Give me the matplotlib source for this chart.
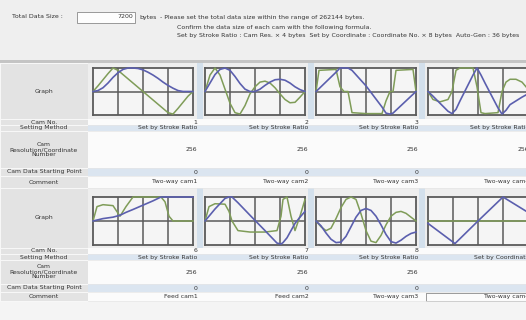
import matplotlib
matplotlib.use("Agg")
import matplotlib.pyplot as plt
from matplotlib.patches import Rectangle

# ---------------- data ----------------
header_label = "Total Data Size :"
header_value = "7200"
header_unit = "bytes"
header_lines = [
    "- Please set the total data size within the range of 262144 bytes.",
    "Confirm the data size of each cam with the following formula.",
    "Set by Stroke Ratio : Cam Res. \u00d7 4 bytes  Set by Coordinate : Coordinate No. \u00d7 8 bytes  Auto-Gen : 36 bytes",
]
row_labels = ["Graph", "Cam No.", "Setting Method", "Cam\nResolution/Coordinate\nNumber",
              "Cam Data Starting Point", "Comment"]

top_cam_no = ["1", "2", "3", "4"]
top_method = ["Set by Stroke Ratio", "Set by Stroke Ratio", "Set by Stroke Ratio", "Set by Stroke Ratio"]
top_res = ["256", "256", "256", "256"]
top_start = ["0", "0", "0", "0"]
top_comment = ["Two-way cam1", "Two-way cam2", "Two-way cam3", "Two-way cam4"]

bot_cam_no = ["6", "7", "8", "9"]
bot_method = ["Set by Stroke Ratio", "Set by Stroke Ratio", "Set by Stroke Ratio", "Set by Coordinate"]
bot_res = ["256", "256", "256", ""]
bot_start = ["0", "0", "0", ""]
bot_comment = ["Feed cam1", "Feed cam2", "Two-way cam3", "Two-way cam4"]

# curves: (x, blue stroke, green)
g1_x = [0, 0.05, 0.1, 0.15, 0.2, 0.25, 0.3, 0.35, 0.4, 0.45, 0.5, 0.55, 0.6, 0.65, 0.7, 0.75, 0.8, 0.85, 0.9, 0.95, 1.0]
g1_blue = [0.5, 0.52, 0.58, 0.68, 0.8, 0.9, 0.97, 1.0, 1.0, 0.99, 0.96, 0.91, 0.85, 0.78, 0.7, 0.63, 0.57, 0.52, 0.5, 0.5, 0.5]
g1_green = [0.5, 0.62, 0.75, 0.88, 1.0, 0.95, 0.86, 0.77, 0.68, 0.59, 0.5, 0.41, 0.32, 0.23, 0.14, 0.05, 0.02, 0.14, 0.27, 0.4, 0.5]

g2_x = [0, 0.05, 0.1, 0.15, 0.2, 0.25, 0.3, 0.35, 0.4, 0.45, 0.5, 0.55, 0.6, 0.65, 0.7, 0.75, 0.8, 0.85, 0.9, 0.95, 1.0]
g2_blue = [0.5, 0.68, 0.86, 0.97, 1.0, 0.95, 0.82, 0.67, 0.55, 0.5, 0.5, 0.55, 0.63, 0.7, 0.75, 0.76, 0.74, 0.68, 0.6, 0.54, 0.5]
g2_green = [0.5, 0.85, 1.0, 0.85, 0.55, 0.25, 0.05, 0.02, 0.2, 0.45, 0.6, 0.7, 0.72, 0.68, 0.58, 0.45, 0.33, 0.26, 0.27, 0.38, 0.5]

g3_x = [0, 0.03, 0.2, 0.24, 0.28, 0.32, 0.36, 0.5, 0.66, 0.7, 0.74, 0.77, 0.8, 0.97, 1.0]
g3_blue = [0.5, 0.56, 0.91, 1.0, 1.0, 1.0, 0.95, 0.62, 0.17, 0.04, 0.02, 0.04, 0.1, 0.44, 0.5]
g3_green = [0.5, 0.95, 0.97, 0.6, 0.5, 0.5, 0.05, 0.03, 0.03, 0.3, 0.5, 0.5, 0.95, 0.97, 0.5]

g4_x = [0, 0.05, 0.12, 0.2, 0.24, 0.28, 0.32, 0.45, 0.49, 0.53, 0.57, 0.7, 0.74, 0.78, 0.82, 0.88, 0.94, 1.0]
g4_blue = [0.5, 0.4, 0.25, 0.08, 0.03, 0.12, 0.3, 0.85, 1.0, 0.85, 0.68, 0.15, 0.02, 0.1, 0.22, 0.3, 0.38, 0.45]
g4_green = [0.5, 0.33, 0.28, 0.33, 0.5, 0.95, 1.0, 1.0, 0.6, 0.05, 0.03, 0.05, 0.5, 0.7, 0.76, 0.76, 0.7, 0.55]

g5_x = [0, 0.04, 0.1, 0.2, 0.27, 0.33, 0.4, 0.5, 0.6, 0.68, 0.72, 0.76, 0.8, 0.9, 1.0]
g5_blue = [0.5, 0.52, 0.55, 0.58, 0.62, 0.68, 0.74, 0.83, 0.92, 1.0, 1.0, 1.0, 1.0, 1.0, 1.0]
g5_green = [0.5, 0.8, 0.84, 0.82, 0.6, 0.8, 1.0, 1.0, 1.0, 1.0, 0.9, 0.6, 0.5, 0.5, 0.5]

g6_x = [0, 0.04, 0.1, 0.2, 0.24, 0.27, 0.33, 0.45, 0.6, 0.72, 0.76, 0.78, 0.82, 0.86, 0.9, 0.95, 1.0]
g6_blue = [0.5, 0.6, 0.75, 0.97, 1.0, 1.0, 0.88, 0.62, 0.3, 0.04, 0.02, 0.05, 0.15, 0.3, 0.45, 0.58, 0.7]
g6_green = [0.5, 0.8, 0.86, 0.85, 0.7, 0.5, 0.3, 0.27, 0.27, 0.3, 0.6, 0.95, 1.0, 0.6, 0.3, 0.6, 0.95]

g7_x = [0, 0.05, 0.1, 0.15, 0.2, 0.25, 0.3, 0.35, 0.4, 0.45, 0.5, 0.55, 0.6, 0.65, 0.7, 0.75, 0.8, 0.85, 0.9, 0.95, 1.0]
g7_blue = [0.5, 0.4, 0.25, 0.12, 0.05, 0.06, 0.18, 0.38, 0.58, 0.72, 0.76, 0.72, 0.6, 0.42, 0.22, 0.07, 0.04, 0.1, 0.18, 0.24, 0.27]
g7_green = [0.5, 0.38, 0.3, 0.35, 0.55, 0.78, 0.95, 1.0, 0.95, 0.65, 0.3, 0.08, 0.05, 0.2, 0.42, 0.6, 0.68, 0.7, 0.66, 0.58, 0.5]

g8_x = [0, 0.27, 0.5, 0.75, 1.0]
g8_blue = [0.45, 0.03, 0.5, 1.0, 0.68]
g8_green = [0.5, 0.5, 0.5, 0.5, 0.5]

top_graphs = [(g1_x, g1_blue, g1_green), (g2_x, g2_blue, g2_green),
              (g3_x, g3_blue, g3_green), (g4_x, g4_blue, g4_green)]
bot_graphs = [(g5_x, g5_blue, g5_green), (g6_x, g6_blue, g6_green),
              (g7_x, g7_blue, g7_green), (g8_x, g8_blue, g8_green)]

# ---------------- layout ----------------
W, H = 526, 320
fig = plt.figure(figsize=(W / 100, H / 100), dpi=100)
fig.patch.set_facecolor("#f4f4f4")
ax = fig.add_axes([0, 0, 1, 1])
ax.set_xlim(0, W)
ax.set_ylim(H, 0)
ax.axis("off")

TXT = "#333333"
FS = 4.4
FSH = 4.5
BLUE_ROW = "#dbe5f0"
WHITE_ROW = "#fbfbfb"
LABEL_BG = "#e3e3e3"
GRAPH_BG = "#eeeeee"
STRIP = "#d3e0ec"
BLUE_LINE = "#5b5fae"
GREEN_LINE = "#7f9c58"
GRID = "#5a5a5a"

# header
ax.add_patch(Rectangle((0, 0), W, 62, facecolor="#efefef", edgecolor="none"))
ax.add_patch(Rectangle((0, 60), W, 3, facecolor="#c4c4c4", edgecolor="none"))
ax.text(12, 17, header_label, fontsize=FSH, color=TXT, va="center", ha="left")
ax.add_patch(Rectangle((77, 11.5), 58, 11, facecolor="#fdfdfd", edgecolor="#8a8a8a", lw=0.6))
ax.text(133, 17, header_value, fontsize=FSH, color=TXT, va="center", ha="right")
ax.text(139, 17, header_unit, fontsize=FSH, color=TXT, va="center", ha="left")
ax.text(160, 17, header_lines[0], fontsize=FSH, color=TXT, va="center", ha="left")
ax.text(177, 28, header_lines[1], fontsize=FSH, color=TXT, va="center", ha="left")
ax.text(177, 36, header_lines[2], fontsize=FSH, color=TXT, va="center", ha="left")

LABEL_W = 88
col_left = [88, 200, 311, 422]
col_right = [199, 310, 420, 531]
box_left = [93, 205, 316, 428]
BOX_W = 100

blocks = [
    dict(rows=[(63, 119), (119, 125), (125, 131), (131, 168), (168, 176), (176, 188)], box=(68, 115),
         vals=[top_cam_no, top_method, top_res, top_start, top_comment], graphs=top_graphs),
    dict(rows=[(188, 248), (248, 254), (254, 260), (260, 284), (284, 292), (292, 301)], box=(197, 245),
         vals=[bot_cam_no, bot_method, bot_res, bot_start, bot_comment], graphs=bot_graphs),
]

for bi, blk in enumerate(blocks):
    rows = blk["rows"]
    # label column
    for ri, (y0, y1) in enumerate(rows):
        ax.add_patch(Rectangle((0, y0), LABEL_W, y1 - y0, facecolor=LABEL_BG, edgecolor="#fafafa", lw=0.6))
        ax.text(LABEL_W / 2, (y0 + y1) / 2, row_labels[ri], fontsize=FS, color=TXT,
                ha="center", va="center", linespacing=1.0)
    # graph row background
    gy0, gy1 = rows[0]
    ax.add_patch(Rectangle((LABEL_W, gy0), W - LABEL_W, gy1 - gy0, facecolor=GRAPH_BG, edgecolor="none"))
    for c in range(1, 4):
        ax.add_patch(Rectangle((col_left[c] - 3, gy0), 6, gy1 - gy0, facecolor=STRIP, edgecolor="none"))
    # data rows
    for ri in range(1, 6):
        y0, y1 = rows[ri]
        fc = BLUE_ROW if ri in (2, 4) else WHITE_ROW
        ax.add_patch(Rectangle((LABEL_W, y0), W - LABEL_W, y1 - y0, facecolor=fc, edgecolor="none"))
        ax.plot([LABEL_W, W], [y1, y1], color="#e6e6e6", lw=0.5)
        vals = blk["vals"][ri - 1]
        for c in range(4):
            ax.text(col_right[c] - 1.5, (y0 + y1) / 2, vals[c], fontsize=FS, color=TXT,
                    ha="right", va="center")
    # graphs
    by0, by1 = blk["box"]
    for c in range(4):
        gx, gb, gg = blk["graphs"][c]
        gax = fig.add_axes([box_left[c] / W, 1 - by1 / H, BOX_W / W, (by1 - by0) / H])
        gax.set_facecolor("#f5f5f5")
        gax.set_xlim(0, 1)
        gax.set_ylim(0, 1)
        gax.set_xticks([])
        gax.set_yticks([])
        for s in gax.spines.values():
            s.set_color(GRID)
            s.set_linewidth(1.3)
        for xv in (0.25, 0.5, 0.75):
            gax.axvline(xv, color=GRID, lw=1.1, zorder=1)
        gax.axhline(0.5, color=GRID, lw=1.1, zorder=1)
        gax.plot(gx, gg, color=GREEN_LINE, lw=1.1, zorder=3, clip_on=False)
        gax.plot(gx, gb, color=BLUE_LINE, lw=1.2, zorder=4, clip_on=False)

# comment edit box in last visible cell
ax.add_patch(Rectangle((col_left[3] + 4, blocks[1]["rows"][5][0] + 0.5), 120,
                       blocks[1]["rows"][5][1] - blocks[1]["rows"][5][0] - 1,
                       facecolor="none", edgecolor="#8a8a8a", lw=0.6))

fig.savefig("out.png", dpi=100, facecolor=fig.get_facecolor())
